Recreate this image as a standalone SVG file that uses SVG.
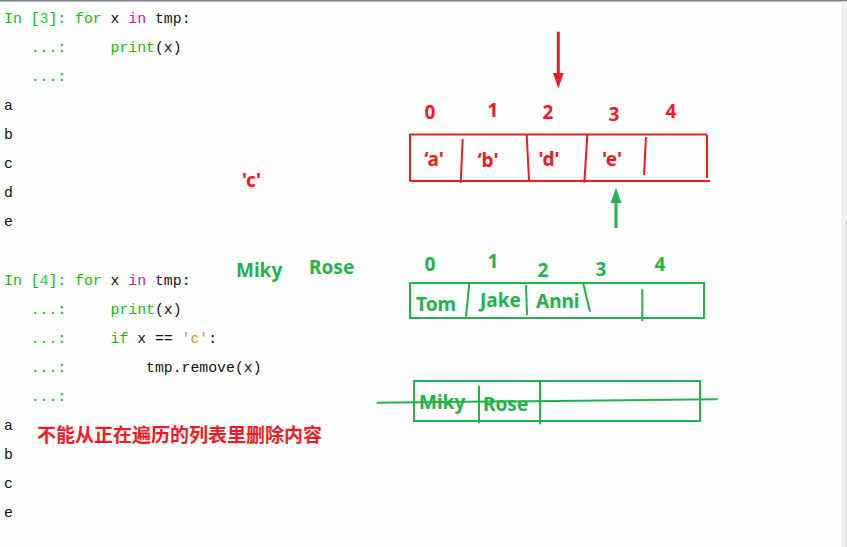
<svg xmlns="http://www.w3.org/2000/svg" width="847" height="547" viewBox="0 0 847 547">
<defs>
<style>
.code{font-family:"Liberation Mono","DejaVu Sans Mono",monospace;font-size:14.8px;fill:#111;}
.g{fill:#10b810;}
.g2{fill:#00e040;}
.m{fill:#c010c0;}
.s{fill:#c8a000;}
.r{font-family:"Noto Sans","Open Sans",sans-serif;font-weight:bold;font-size:19px;fill:#ed1c24;}
.gr{font-family:"Noto Sans","Open Sans",sans-serif;font-weight:bold;font-size:19px;fill:#22b14c;}
.cn{font-family:"Noto Sans CJK SC",sans-serif;font-weight:bold;font-size:19px;fill:#ed1c24;}
.rl{stroke:#ed1c24;stroke-width:2;fill:none;}
.gl{stroke:#22b14c;stroke-width:2;fill:none;}
</style>
</defs>
<rect x="0" y="0" width="847" height="547" fill="#fefefe"/>
<rect x="0" y="0" width="847" height="1.5" fill="#7a808a"/>
<rect x="841" y="1.5" width="6" height="546" fill="#f0f0f0"/>
<line x1="845.5" y1="221" x2="845.5" y2="547" stroke="#d8d8d8" stroke-width="1"/>

<g id="code1" class="code">
<text x="4" y="23" xml:space="preserve"><tspan class="g">In [</tspan><tspan class="g2">3</tspan><tspan class="g">]: for</tspan> x <tspan class="m">in</tspan> tmp:</text>
<text x="4" y="52" xml:space="preserve"><tspan class="g">   ...:     print</tspan>(x)</text>
<text x="4" y="81" xml:space="preserve"><tspan class="g">   ...:</tspan></text>
<text x="4" y="110">a</text>
<text x="4" y="139">b</text>
<text x="4" y="168">c</text>
<text x="4" y="197">d</text>
<text x="4" y="226">e</text>
</g>

<g id="code2" class="code">
<text x="4" y="285" xml:space="preserve"><tspan class="g">In [</tspan><tspan class="g2">4</tspan><tspan class="g">]: for</tspan> x <tspan class="m">in</tspan> tmp:</text>
<text x="4" y="314" xml:space="preserve"><tspan class="g">   ...:     print</tspan>(x)</text>
<text x="4" y="343" xml:space="preserve"><tspan class="g">   ...:     if</tspan> x == <tspan class="s">'c'</tspan>:</text>
<text x="4" y="372" xml:space="preserve"><tspan class="g">   ...:</tspan>         tmp.remove(x)</text>
<text x="4" y="401" xml:space="preserve"><tspan class="g">   ...:</tspan></text>
<text x="4" y="430">a</text>
<text x="4" y="459">b</text>
<text x="4" y="488">c</text>
<text x="4" y="517">e</text>
</g>

<g id="note-c"><text class="r" x="242" y="187">'c'</text></g>
<g id="note-cn"><text class="cn" x="37" y="442">不能从正在遍历的列表里删除内容</text></g>
<g id="note-miky"><text class="gr" x="236" y="277">Miky</text></g>
<g id="note-rose"><text class="gr" x="309" y="274">Rose</text></g>

<g id="red-array">
<line class="rl" x1="410" y1="134.5" x2="707" y2="134.5"/>
<line class="rl" x1="410" y1="181" x2="710" y2="181"/>
<line class="rl" x1="410" y1="134" x2="410" y2="181"/>
<line class="rl" x1="707" y1="135" x2="707" y2="178"/>
<line class="rl" x1="462.7" y1="139" x2="460.7" y2="183"/>
<line class="rl" x1="526.7" y1="135" x2="529" y2="180"/>
<line class="rl" x1="587.3" y1="135" x2="584.3" y2="182.7"/>
<line class="rl" x1="646" y1="137" x2="644" y2="175"/>
<text class="r" x="430" y="119" text-anchor="middle">0</text>
<text class="r" x="493" y="117" text-anchor="middle">1</text>
<text class="r" x="548" y="119" text-anchor="middle">2</text>
<text class="r" x="614" y="121" text-anchor="middle">3</text>
<text class="r" x="671" y="118" text-anchor="middle">4</text>
<text class="r" x="434" y="166" text-anchor="middle">‘a'</text>
<text class="r" x="488" y="167" text-anchor="middle">‘b'</text>
<text class="r" x="549" y="166" text-anchor="middle">'d'</text>
<text class="r" x="612" y="166" text-anchor="middle">'e'</text>
</g>

<g id="green-array">
<rect class="gl" x="410" y="283" width="294" height="35"/>
<line class="gl" x1="469.3" y1="283.5" x2="466" y2="316.7"/>
<line class="gl" x1="526" y1="285" x2="527" y2="315.3"/>
<line class="gl" x1="583.3" y1="283.5" x2="590" y2="311.7"/>
<line class="gl" x1="642.3" y1="289.3" x2="642.3" y2="321"/>
<text class="gr" x="430" y="271" text-anchor="middle">0</text>
<text class="gr" x="493" y="268" text-anchor="middle">1</text>
<text class="gr" x="543" y="277" text-anchor="middle">2</text>
<text class="gr" x="601" y="276" text-anchor="middle">3</text>
<text class="gr" x="660" y="271" text-anchor="middle">4</text>
<text class="gr" x="416" y="311">Tom</text>
<text class="gr" x="480" y="307">Jake</text>
<text class="gr" x="536" y="308">Anni</text>
</g>

<g id="green-array2">
<rect class="gl" x="414" y="381" width="286" height="40"/>
<line class="gl" x1="479" y1="385.7" x2="479" y2="423.3"/>
<line class="gl" x1="540" y1="381.7" x2="540" y2="424.3"/>
<text class="gr" x="419" y="409">Miky</text>
<text class="gr" x="483" y="411">Rose</text>
<line class="gl" x1="376.7" y1="402.7" x2="717.7" y2="399.3"/>
</g>

<g id="connectors">
<line x1="558.3" y1="31.7" x2="558.3" y2="76" stroke="#ed1c24" stroke-width="3"/>
<polygon points="553,73 563.5,73 558.3,88.5" fill="#ed1c24"/>
<line x1="616" y1="228" x2="616" y2="200" stroke="#22b14c" stroke-width="3"/>
<polygon points="610.5,203 621.5,203 616,188" fill="#22b14c"/>
</g>
</svg>
